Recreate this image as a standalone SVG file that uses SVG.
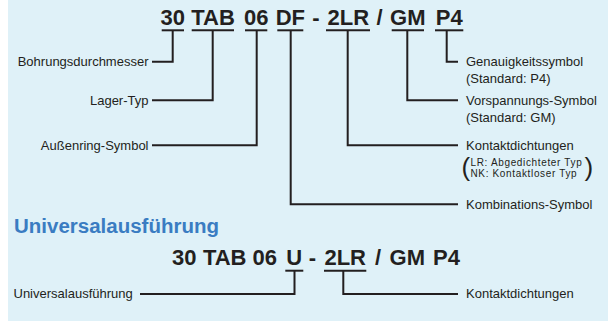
<svg xmlns="http://www.w3.org/2000/svg" width="608" height="323" viewBox="0 0 608 323">
<style>
.code{font-family:"Liberation Sans",Arial,sans-serif;font-weight:bold;font-size:22px;fill:#231f20;text-anchor:middle}
.lbl{font-family:"Liberation Sans",Arial,sans-serif;font-size:13px;fill:#231f20}
.sm{font-family:"Liberation Sans",Arial,sans-serif;font-size:10px;letter-spacing:0.65px;fill:#231f20}
.par{font-family:"Liberation Sans",Arial,sans-serif;font-size:26px;fill:#231f20}
.end{text-anchor:end}
.ul{stroke:#231f20;stroke-width:2}
.conn path{fill:none;stroke:#231f20;stroke-width:2}
.head{font-family:"Liberation Sans",Arial,sans-serif;font-weight:bold;font-size:19.5px;fill:#3a7cc2}
</style>
<rect x="8" y="0" width="600" height="321" fill="#dff1f8"/>

<g id="code1">
<text class="code" x="172.8" y="25">30</text>
<text class="code" x="213" y="25">TAB</text>
<text class="code" x="256.3" y="25">06</text>
<text class="code" x="290.3" y="25">DF</text>
<text class="code" x="316" y="25">-</text>
<text class="code" x="348.3" y="25">2LR</text>
<text class="code" x="379.5" y="25">/</text>
<text class="code" x="407.8" y="25">GM</text>
<text class="code" x="449.3" y="25">P4</text>
<line class="ul" x1="161.7" y1="30.3" x2="184" y2="30.3"/>
<line class="ul" x1="191.7" y1="30.3" x2="234" y2="30.3"/>
<line class="ul" x1="245" y1="30.3" x2="267.3" y2="30.3"/>
<line class="ul" x1="277.3" y1="30.3" x2="303.3" y2="30.3"/>
<line class="ul" x1="326" y1="30.3" x2="370" y2="30.3"/>
<line class="ul" x1="391.7" y1="30.3" x2="424" y2="30.3"/>
<line class="ul" x1="435" y1="30.3" x2="463.3" y2="30.3"/>
</g>

<g id="code2">
<text class="code" x="184.2" y="265">30</text>
<text class="code" x="224.7" y="265">TAB</text>
<text class="code" x="264.7" y="265">06</text>
<text class="code" x="294.2" y="265">U</text>
<text class="code" x="312.3" y="265">-</text>
<text class="code" x="345.2" y="265">2LR</text>
<text class="code" x="378" y="265">/</text>
<text class="code" x="407.3" y="265">GM</text>
<text class="code" x="446.5" y="265">P4</text>
<line class="ul" x1="285.3" y1="270.7" x2="303.3" y2="270.7"/>
<line class="ul" x1="324" y1="270.7" x2="366.3" y2="270.7"/>
</g>

<g class="conn" id="connectors">
<path d="M172.7,31 V61.7 H152"/>
<path d="M212.7,31 V100.3 H152"/>
<path d="M256.7,31 V145.3 H152"/>
<path d="M290.7,31 V204.3 H458"/>
<path d="M347.7,31 V145.3 H458"/>
<path d="M407.3,31 V100.3 H458"/>
<path d="M446.7,31 V61.7 H458"/>
<path d="M294.5,271 V294 H140"/>
<path d="M343.3,271 V294 H458"/>
</g>

<g id="n-bohrung"><text class="lbl end" x="148.5" y="65.7">Bohrungsdurchmesser</text></g>
<g id="n-lager"><text class="lbl end" x="148.5" y="104.5">Lager-Typ</text></g>
<g id="n-aussen"><text class="lbl end" x="148.5" y="149.5">Außenring-Symbol</text></g>

<g id="n-genau">
<text class="lbl" x="466" y="65.7">Genauigkeitssymbol</text>
<text class="lbl" x="466" y="83">(Standard: P4)</text>
</g>
<g id="n-vorsp">
<text class="lbl" x="466" y="104.5">Vorspannungs-Symbol</text>
<text class="lbl" x="466" y="122">(Standard: GM)</text>
</g>
<g id="n-kontakt">
<text class="lbl" x="466" y="149.5">Kontaktdichtungen</text>
<text class="par" x="461.5" y="175.5">(</text>
<text class="sm" x="470.5" y="165.8">LR: Abgedichteter Typ</text>
<text class="sm" x="470.5" y="177">NK: Kontaktloser Typ</text>
<text class="par" x="584.5" y="175.5">)</text>
</g>
<g id="n-kombi"><text class="lbl" x="466" y="208.5">Kombinations-Symbol</text></g>

<g id="heading"><text class="head" x="14" y="232.7" textLength="205" lengthAdjust="spacingAndGlyphs">Universalausführung</text></g>

<g id="n-univ"><text class="lbl" x="13.5" y="298">Universalausführung</text></g>
<g id="n-kontakt2"><text class="lbl" x="466" y="298">Kontaktdichtungen</text></g>
</svg>
